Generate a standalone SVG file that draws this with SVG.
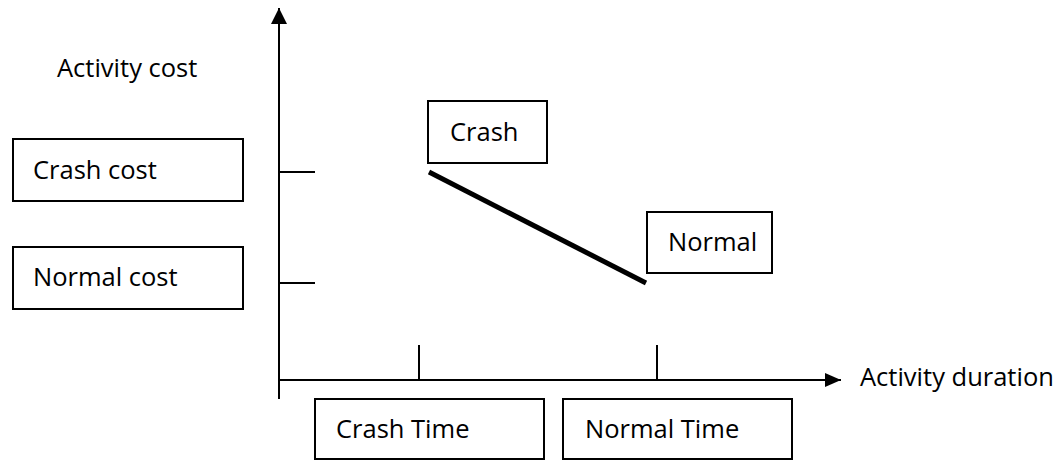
<svg xmlns="http://www.w3.org/2000/svg" width="1064" height="461" viewBox="0 0 1064 461">
  <style>
    .box { fill: #ffffff; stroke: #000000; stroke-width: 2; }
    .lbl { font-family: "Open Sans", "Liberation Sans", sans-serif; font-size: 25.5px; fill: #000000; }
    .axis { stroke: #000000; stroke-width: 2; fill: none; }
    .tick { stroke: #000000; stroke-width: 2; }
  </style>
  <defs>
    <marker id="arrowUp" viewBox="0 0 16 16" refX="16" refY="8" markerWidth="16" markerHeight="16" markerUnits="userSpaceOnUse" orient="auto">
      <path d="M0,0 L16,8 L0,16 Z" fill="#000000"/>
    </marker>
    <marker id="arrowRight" viewBox="0 0 16 14" refX="16" refY="7" markerWidth="16" markerHeight="14" markerUnits="userSpaceOnUse" orient="auto">
      <path d="M0,0 L16,7 L0,14 Z" fill="#000000"/>
    </marker>
  </defs>
  <rect width="1064" height="461" fill="#ffffff"/>

  <!-- axes, ticks and the cost-slope line -->
  <g id="connectors">
    <line class="axis" x1="279" y1="399" x2="279" y2="8" marker-end="url(#arrowUp)"/>
    <line class="axis" x1="278" y1="380" x2="841" y2="380" marker-end="url(#arrowRight)"/>
    <line class="tick" x1="279" y1="172" x2="315" y2="172"/>
    <line class="tick" x1="279" y1="283" x2="315" y2="283"/>
    <line class="tick" x1="419" y1="345" x2="419" y2="380"/>
    <line class="tick" x1="657" y1="345" x2="657" y2="380"/>
    <line x1="429" y1="172" x2="646" y2="283" stroke="#000000" stroke-width="5"/>
  </g>

  <g id="activity-cost-label">
    <text class="lbl" x="57" y="77">Activity cost</text>
  </g>
  <g id="activity-duration-label">
    <text class="lbl" x="860" y="386">Activity duration</text>
  </g>

  <g id="crash-cost">
    <rect class="box" x="13" y="139" width="230" height="62"/>
    <text class="lbl" x="33" y="179">Crash cost</text>
  </g>
  <g id="normal-cost">
    <rect class="box" x="13" y="247" width="230" height="62"/>
    <text class="lbl" x="33" y="286">Normal cost</text>
  </g>
  <g id="crash-point">
    <rect class="box" x="428" y="101" width="119" height="62"/>
    <text class="lbl" x="450" y="141">Crash</text>
  </g>
  <g id="normal-point">
    <rect class="box" x="647" y="212" width="125" height="61"/>
    <text class="lbl" x="668" y="251">Normal</text>
  </g>
  <g id="crash-time">
    <rect class="box" x="315" y="399" width="229" height="60"/>
    <text class="lbl" x="336" y="438">Crash Time</text>
  </g>
  <g id="normal-time">
    <rect class="box" x="563" y="399" width="229" height="60"/>
    <text class="lbl" x="585" y="438">Normal Time</text>
  </g>
</svg>
